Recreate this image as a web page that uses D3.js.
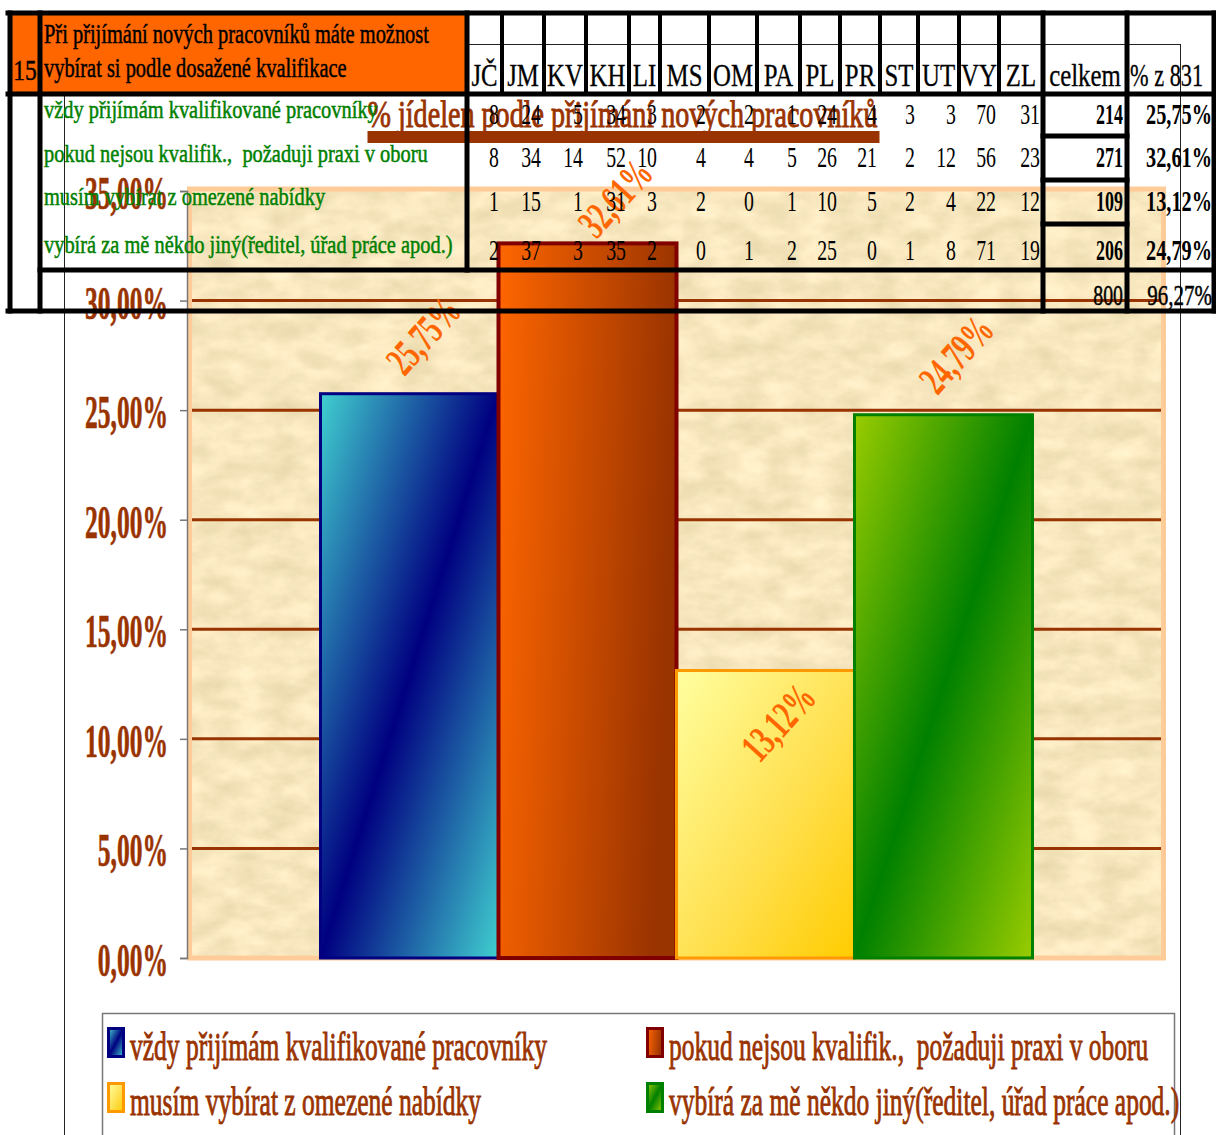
<!DOCTYPE html>
<html>
<head>
<meta charset="utf-8">
<script src="https://cdn.jsdelivr.net/npm/d3@7"></script>
<style>
  html, body { margin: 0; padding: 0; background: #fff; }
  svg { display: block; }
  text { font-family: "Liberation Serif", "Times New Roman", serif; white-space: pre; }
</style>
</head>
<body>
<svg id="chart" width="1216" height="1135"></svg>
<script>
// ---- Question 15: hiring of new staff, answers by region ----
const questionNo = "15";
const questionText = ["Při přijímání nových pracovníků máte možnost", "vybírat si podle dosažené kvalifikace"];
const regions = ["JČ", "JM", "KV", "KH", "LI", "MS", "OM", "PA", "PL", "PR", "ST", "UT", "VY", "ZL"];
const answers = [
  "vždy přijímám kvalifikované pracovníky",
  "pokud nejsou kvalifik.,  požaduji praxi v oboru",
  "musím vybírat z omezené nabídky",
  "vybírá za mě někdo jiný(ředitel, úřad práce apod.)"
];
const countsAlways   = [8, 24, 5, 34, 3, 2, 2, 1, 24, 4, 3, 3, 70, 31];
const countsPractice = [8, 34, 14, 52, 10, 4, 4, 5, 26, 21, 2, 12, 56, 23];
const countsLimited  = [1, 15, 1, 31, 3, 2, 0, 1, 10, 5, 2, 4, 22, 12];
const countsOther    = [2, 37, 3, 35, 2, 0, 1, 2, 25, 0, 1, 8, 71, 19];
const answerTotals   = [214, 271, 109, 206];
const percentOf831   = [25.75, 32.61, 13.12, 24.79];
const grandTotal     = 800;
const grandPercent   = 96.27;
const totalHeader    = "celkem";
const percentHeader  = "% z 831";
const chartTitle     = "% jídelen podle přijímání nových pracovníků";
const yTickValues    = [0, 5, 10, 15, 20, 25, 30, 35];

const rowCounts = [countsAlways, countsPractice, countsLimited, countsOther];

// Czech number formatting: decimal comma
const cz = d3.formatLocale({ decimal: ",", thousands: "\u00a0", grouping: [3], currency: ["", " Kč"] });
const f2 = cz.format(".2f");
const pct = v => f2(v) + "%";

const svg = d3.select("#chart");
const defs = svg.append("defs");

// ---- fills for the four answers ----
const answerStyles = [
  { stroke: "#000080", sw: 3, grad: { x2: 1, y2: 1, stops: [[0, "#40D0D0"], [0.5, "#000080"], [1, "#40D0D0"]] } },
  { stroke: "#800000", sw: 4, grad: { x2: 1, y2: 0.15, stops: [[0, "#FF6600"], [1, "#993300"]] } },
  { stroke: "#FF9900", sw: 3, grad: { x2: 1, y2: 1, stops: [[0, "#FFFFA0"], [0.55, "#FFE050"], [1, "#FFCC00"]] } },
  { stroke: "#008000", sw: 3, grad: { x2: 1, y2: 1, stops: [[0, "#99CC00"], [0.5, "#008000"], [1, "#99CC00"]] } }
];
answerStyles.forEach((s, i) => {
  const g = defs.append("linearGradient").attr("id", "fill" + i)
    .attr("x1", 0).attr("y1", 0).attr("x2", s.grad.x2).attr("y2", s.grad.y2);
  s.grad.stops.forEach(([o, c]) => g.append("stop").attr("offset", o).attr("stop-color", c));
});

// parchment texture for the plot area
const paper = defs.append("filter").attr("id", "paper")
  .attr("x", 0).attr("y", 0).attr("width", 1).attr("height", 1)
  .attr("color-interpolation-filters", "sRGB");
paper.append("feTurbulence").attr("type", "fractalNoise")
  .attr("baseFrequency", "0.03 0.05").attr("numOctaves", 4).attr("seed", 11).attr("result", "noise");
paper.append("feColorMatrix").attr("in", "noise").attr("type", "matrix")
  .attr("values", "0.14 0 0 0 0.90  0.14 0 0 0 0.835  0.17 0 0 0 0.66  0 0 0 0 1");

// text helper: condensed serif glyphs (horizontal squeeze)
function txt(g, str, x, y, o) {
  const t = g.append("text")
    .attr("text-anchor", o.anchor || "start")
    .attr("fill", o.color || "#000")
    .style("font-size", o.size + "px")
    .style("font-weight", o.weight || "normal")
    .text(str);
  if (o.heavy) t.attr("stroke", o.color || "#000").attr("stroke-width", o.heavy).attr("paint-order", "stroke");
  let sx = o.sx || 1;
  if (o.fit) sx = o.fit / t.node().getComputedTextLength();
  t.attr("transform", `translate(${x},${y})` + (o.rotate ? ` rotate(${o.rotate})` : "") + ` scale(${sx},1)`);
  t.sx = sx;
  return t;
}

// ================= CHART =================
const chartArea = { x: 64.5, y: 44.5, w: 1116, h: 1120 };
const plot = { left: 187, right: 1166, top: 189, bottom: 958 };
const brown = "#993300";

svg.append("rect").attr("x", chartArea.x).attr("y", chartArea.y)
  .attr("width", chartArea.w).attr("height", chartArea.h)
  .attr("fill", "#fff").attr("stroke", "#222").attr("stroke-width", 1);

const y = d3.scaleLinear().domain([0, 35]).range([plot.bottom, 191]);
const xOuter = d3.scaleBand().domain(["q" + questionNo]).range([plot.left, plot.right])
  .paddingInner(0).paddingOuter(0.1875);
const xInner = d3.scaleBand().domain(d3.range(answers.length)).range([0, xOuter.bandwidth()]).padding(0);

// plot area
svg.append("rect").attr("x", plot.left).attr("y", plot.top)
  .attr("width", plot.right - plot.left).attr("height", plot.bottom - plot.top)
  .attr("fill", "#F4E4C0").attr("filter", "url(#paper)");

// gridlines
svg.append("g").selectAll("line").data(yTickValues.filter(v => v > 0 && v < 35)).join("line")
  .attr("x1", plot.left + 4).attr("x2", plot.right - 4)
  .attr("y1", d => y(d)).attr("y2", d => y(d))
  .attr("stroke", brown).attr("stroke-width", 3);

// plot border
svg.append("rect").attr("x", plot.left + 2.5).attr("y", plot.top)
  .attr("width", plot.right - plot.left - 5).attr("height", plot.bottom - plot.top)
  .attr("fill", "none").attr("stroke", "#FFCC99").attr("stroke-width", 5);

// y axis
const yAxis = svg.append("g").attr("transform", `translate(${plot.left},0)`)
  .call(d3.axisLeft(y).tickValues(yTickValues).tickSize(7).tickFormat(""));
yAxis.select(".domain").attr("stroke", "#777").attr("stroke-width", 1.5);
yAxis.selectAll(".tick line").attr("stroke", "#777").attr("stroke-width", 1.5);

const yLabelG = svg.append("g");
let ySx = null;
yTickValues.slice().reverse().forEach(v => {
  const t = txt(yLabelG, pct(v), 168, y(v) + 18,
    { anchor: "end", size: 46, weight: "bold", color: brown, heavy: 0.6, fit: ySx === null ? 83 : null, sx: ySx });
  if (ySx === null) ySx = t.sx;
});

// bars
const barsG = svg.append("g");
percentOf831.forEach((v, i) => {
  const s = answerStyles[i];
  barsG.append("rect")
    .attr("x", xOuter("q" + questionNo) + xInner(i))
    .attr("y", y(v))
    .attr("width", xInner.bandwidth())
    .attr("height", y(0) - y(v))
    .attr("fill", `url(#fill${i})`)
    .attr("stroke", s.stroke).attr("stroke-width", s.sw);
});

// value labels (rotated)
const labelShift = [[14, -58], [28, -45], [13, 52], [13, -60]];
const valG = svg.append("g");
percentOf831.forEach((v, i) => {
  const cx = xOuter("q" + questionNo) + xInner(i) + xInner.bandwidth() / 2 + labelShift[i][0];
  const cy = y(v) + labelShift[i][1];
  txt(valG, pct(v), cx, cy, { anchor: "middle", size: 42, weight: "bold", color: "#FF6600", sx: 0.64, rotate: -48 })
    .attr("dominant-baseline", "central");
});

// title
const titleG = svg.append("g");
const titleCx = chartArea.x + chartArea.w / 2;
const titleW = 510;
titleG.append("rect").attr("x", titleCx - titleW / 2).attr("y", 131)
  .attr("width", titleW + 2).attr("height", 12).attr("fill", brown);
txt(titleG, chartTitle, titleCx, 127, { anchor: "middle", size: 37, color: brown, heavy: 0.9, fit: titleW });

// legend
const legend = { x: 102.5, y: 1013.5, w: 1072, h: 140 };
svg.append("rect").attr("x", legend.x).attr("y", legend.y).attr("width", legend.w).attr("height", legend.h)
  .attr("fill", "#fff").attr("stroke", "#777").attr("stroke-width", 1.5);
const legCols = [107, 646];
const legRows = [1027, 1082];
let legSx = null;
answers.forEach((a, i) => {
  const cx = legCols[i % 2], cy = legRows[Math.floor(i / 2)];
  svg.append("rect").attr("x", cx + 1.5).attr("y", cy + 1.5).attr("width", 15).attr("height", 28)
    .attr("fill", `url(#fill${i})`).attr("stroke", answerStyles[i].stroke).attr("stroke-width", 3);
  const t = txt(svg, a, cx + 23, cy + 33,
    { size: 40, color: brown, heavy: 0.9, fit: legSx === null ? 417 : null, sx: legSx });
  if (legSx === null) legSx = t.sx;
});

// ================= TABLE =================
const tbl = svg.append("g");
const colEdges = [467, 502, 544, 586, 629, 660, 709, 757, 800, 840, 880, 918, 959, 999, 1043, 1127, 1214];
const T = { left: 10, mid: 40, top: 13, head: 94, totalTop: 270, bottom: 311, right: 1214 };

// header fill
tbl.append("rect").attr("x", T.left).attr("y", T.top).attr("width", colEdges[0] - T.left)
  .attr("height", T.head - T.top).attr("fill", "#FF6600");

// header text
txt(tbl, questionNo, 25, 80, { anchor: "middle", size: 30, sx: 0.78, heavy: 0.5 });
const qt1 = txt(tbl, questionText[0], 44, 43, { size: 28, heavy: 0.5, fit: 385 });
txt(tbl, questionText[1], 44, 77, { size: 28, heavy: 0.5, sx: qt1.sx });
regions.forEach((r, j) => {
  txt(tbl, r, (colEdges[j] + colEdges[j + 1]) / 2, 86, { anchor: "middle", size: 31, sx: 0.8, heavy: 0.3 });
});
txt(tbl, totalHeader, (colEdges[14] + colEdges[15]) / 2, 86, { anchor: "middle", size: 31, sx: 0.8, heavy: 0.3 });
txt(tbl, percentHeader, 1130, 86, { size: 31, sx: 0.72, heavy: 0.3 });

// answer rows
const labelBase = [118, 162, 205, 253];
const numBase = [124, 167, 211, 260];
let rowSx = null;
answers.forEach((a, i) => {
  const t = txt(tbl, a, 44, labelBase[i], { size: 25, color: "#008000", heavy: 0.5, fit: rowSx === null ? 334 : null, sx: rowSx });
  if (rowSx === null) rowSx = t.sx;
  rowCounts[i].forEach((c, j) => {
    txt(tbl, String(c), colEdges[j + 1] - 3, numBase[i], { anchor: "end", size: 30, sx: 0.66 });
  });
  txt(tbl, String(answerTotals[i]), colEdges[15] - 4, numBase[i], { anchor: "end", size: 29, weight: "bold", sx: 0.62 });
  txt(tbl, pct(percentOf831[i]), colEdges[16] - 2, numBase[i], { anchor: "end", size: 29, weight: "bold", sx: 0.7 });
});
txt(tbl, String(grandTotal), colEdges[15] - 4, 305, { anchor: "end", size: 30, sx: 0.66, heavy: 0.5 });
txt(tbl, pct(grandPercent), colEdges[16] - 2, 305, { anchor: "end", size: 30, sx: 0.7, heavy: 0.5 });

// grid lines of the table
const lines = [
  // horizontals
  [8, T.top, 1216, T.top, 5],
  [8, T.head, 1216, T.head, 5],
  [T.mid, T.totalTop, 1216, T.totalTop, 5],
  [8, T.bottom, 1216, T.bottom, 5],
  [colEdges[14], 136, colEdges[15], 136, 5],
  [colEdges[14], 180, colEdges[15], 180, 5],
  [colEdges[14], 224, colEdges[15], 224, 5],
  // verticals
  [T.left, T.top, T.left, T.bottom, 5],
  [T.mid, T.top, T.mid, T.bottom, 5],
  [colEdges[0], T.top, colEdges[0], T.totalTop, 5],
  [colEdges[14], T.top, colEdges[14], T.bottom, 5],
  [colEdges[15], T.top, colEdges[15], T.bottom, 5],
  [T.right, T.top, T.right, T.bottom, 5]
];
colEdges.slice(1, 14).forEach(x => lines.push([x, T.top, x, T.head, 4]));
tbl.append("g").selectAll("line").data(lines).join("line")
  .attr("x1", d => d[0]).attr("y1", d => d[1]).attr("x2", d => d[2]).attr("y2", d => d[3])
  .attr("stroke", "#000").attr("stroke-width", d => d[4]).attr("stroke-linecap", "square");
</script>
</body>
</html>
